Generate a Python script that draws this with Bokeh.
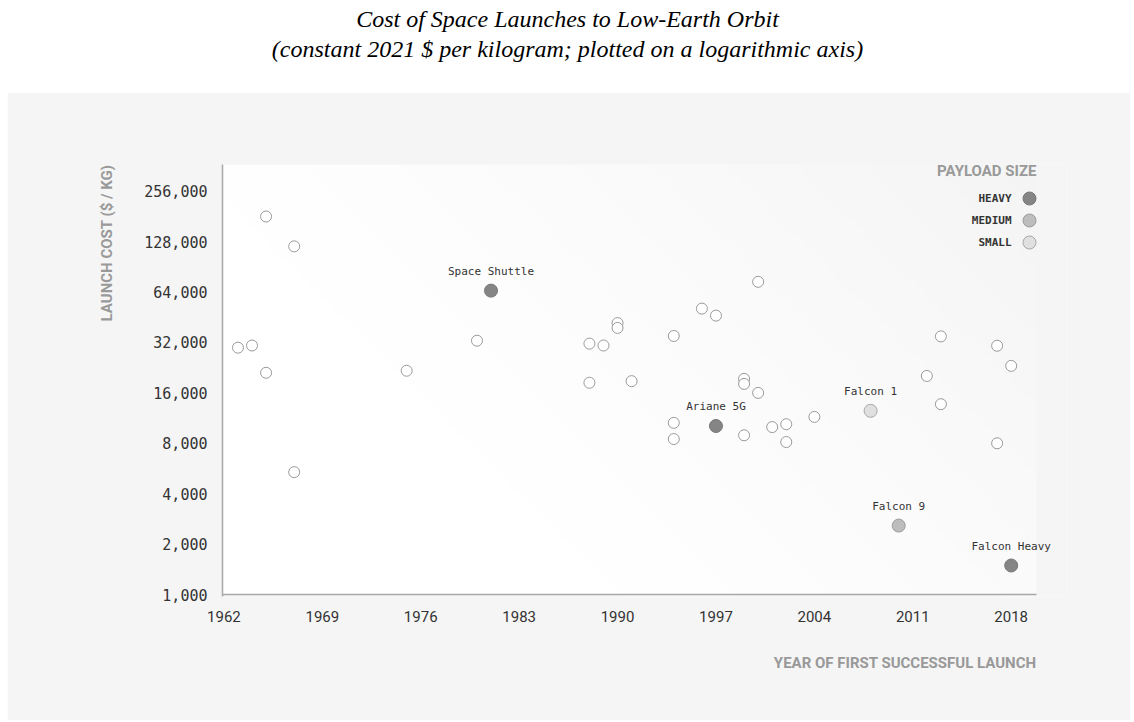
import numpy as np
from bokeh.plotting import figure
from bokeh.models import (Range1d, FixedTicker, NumeralTickFormatter, Title, Spacer,
                          ColumnDataSource, LabelSet, Label)
from bokeh.layouts import column, row
from bokeh.embed import file_html
from bokeh.resources import INLINE
from bokeh.core.properties import value

# ---------------- data ----------------
title_lines = [
    "Cost of Space Launches to Low-Earth Orbit",
    "(constant 2021 $ per kilogram; plotted on a logarithmic axis)",
]
x_axis_title = "YEAR OF FIRST SUCCESSFUL LAUNCH"
y_axis_title = "LAUNCH COST ($ / KG)"
legend_title = "PAYLOAD SIZE"

x_ticks = [1962, 1969, 1976, 1983, 1990, 1997, 2004, 2011, 2018]
y_ticks = [1000, 2000, 4000, 8000, 16000, 32000, 64000, 128000, 256000]

other_years = [1963, 1964, 1965, 1965, 1967, 1967, 1975, 1980,
               1988, 1988, 1989, 1990, 1990, 1991, 1994, 1994, 1994,
               1996, 1997, 1999, 1999, 1999, 2000, 2000, 2001, 2002, 2002,
               2004, 2012, 2013, 2013, 2017, 2017, 2018]
other_costs = [29800, 30700, 181000, 21100, 120000, 5380, 21700, 32800,
               31500, 18400, 30700, 41800, 39100, 18800, 35000, 10600, 8480,
               51000, 46300, 19400, 18100, 8930, 73700, 16000, 10000, 10400, 8140,
               11500, 20200, 34800, 13700, 30600, 8000, 23200]

named_vehicles = ["Space Shuttle", "Ariane 5G", "Falcon 1", "Falcon 9", "Falcon Heavy"]
named_years = [1981, 1997, 2008, 2010, 2018]
named_costs = [65300, 10150, 12500, 2580, 1490]
named_sizes = ["HEAVY", "HEAVY", "SMALL", "MEDIUM", "HEAVY"]

size_levels = ["HEAVY", "MEDIUM", "SMALL"]
size_fill = {"HEAVY": "#858585", "MEDIUM": "#bdbdbd", "SMALL": "#e0e0e0"}
size_line = {"HEAVY": "#777777", "MEDIUM": "#9c9c9c", "SMALL": "#a8a8a8"}

# ---------------- geometry ----------------
AX_X0, AX_X1 = 1961.9, 2019.8          # extent of the drawn axes
AX_Y0, AX_Y1 = 1000, 370000
AX_W, AX_H = 814, 430                  # axes size in px
EXTRA_R, EXTRA_B = 30, 2               # extra frame room so labels are not clipped
YR_PER_PX = (AX_X1 - AX_X0) / AX_W
LOG_PER_PX = (np.log10(AX_Y1) - np.log10(AX_Y0)) / AX_H
X0, X1 = AX_X0, AX_X1 + EXTRA_R * YR_PER_PX
Y0, Y1 = float(10 ** (np.log10(AX_Y0) - EXTRA_B * LOG_PER_PX)), AX_Y1

def xpx(dx_from_axis_right):
    return AX_X1 - dx_from_axis_right * YR_PER_PX

def ypx(dy_from_top):
    return float(10 ** (np.log10(AX_Y1) - dy_from_top * LOG_PER_PX))

# ---------------- title figure ----------------
t = figure(width=1134, height=92, x_range=Range1d(0, 1134), y_range=Range1d(92, 0),
           toolbar_location=None, output_backend="svg", min_border=0,
           x_axis_location=None, y_axis_location=None, title=None,
           outline_line_color=None, background_fill_color="white", border_fill_color="white")
t.grid.visible = False
t.text(x=[567, 567], y=[18, 48], text=title_lines,
       text_font=value("Liberation Serif"), text_font_style="italic",
       text_font_size="24px", text_align="center", text_baseline="middle",
       text_color="#000000")

# ---------------- main figure ----------------
p = figure(width=1123, height=628, x_range=Range1d(X0, X1), y_range=Range1d(Y0, Y1),
           y_axis_type="log", output_backend="svg", toolbar_location=None, title=None,
           min_border_left=215, min_border_right=94 - EXTRA_R, min_border_top=72,
           min_border_bottom=126 - EXTRA_B,
           border_fill_color="#f5f5f5", background_fill_color="#f5f5f5",
           outline_line_color=None)
p.xgrid.visible = False
p.ygrid.visible = False

# soft diagonal highlight in the plotting area (white lower-left -> grey upper-right)
ny, nx = 120, 240
yy, xx = np.mgrid[0:1:ny * 1j, 0:1:nx * 1j]
u = (xx * AX_W + yy * AX_H) / (AX_W + AX_H)
tt = np.clip((u - 0.25) / 0.75, 0, 1)
g = np.round(255 - 11 * tt ** 1.3).astype(np.uint8)
img = np.empty((ny, nx), dtype=np.uint32)
view = img.view(dtype=np.uint8).reshape((ny, nx, 4))
view[:, :, 0] = g
view[:, :, 1] = g
view[:, :, 2] = g
view[:, :, 3] = 255
p.image_rgba(image=[img], x=AX_X0, y=AX_Y0, dw=AX_X1 - AX_X0, dh=AX_Y1 - AX_Y0)

p.xaxis.ticker = FixedTicker(ticks=x_ticks)
p.yaxis.ticker = FixedTicker(ticks=y_ticks)
p.yaxis.formatter = NumeralTickFormatter(format="0,0")
for ax in (p.xaxis[0], p.yaxis[0]):
    ax.major_tick_line_color = None
    ax.minor_tick_line_color = None
    ax.axis_line_color = "#a8a8a8"
    ax.axis_line_width = 1.5
    ax.major_label_text_color = "#333333"
p.xaxis.axis_line_color = None
p.yaxis.major_label_text_font = "DejaVu Sans Mono"
p.yaxis.major_label_text_font_size = "15px"
p.yaxis.major_label_standoff = 9
p.xaxis.major_label_text_font = "Roboto"
p.xaxis.major_label_text_font_size = "15px"
p.xaxis.major_label_standoff = 10 - EXTRA_B

# x axis line drawn only over the axis extent
p.segment(x0=[AX_X0], y0=[AX_Y0], x1=[AX_X1], y1=[AX_Y0],
          line_color="#a8a8a8", line_width=1.5)

ylab = Title(text=y_axis_title, align="right", text_font="Roboto", text_font_size="15px",
             text_font_style="bold", text_color="#999999", standoff=51)
p.add_layout(ylab, "left")
xlab = Title(text=x_axis_title, align="right", text_font="Roboto", text_font_size="15px",
             text_font_style="bold", text_color="#999999", standoff=55,
             offset=EXTRA_R)
p.add_layout(xlab, "below")

# unlabeled launches
p.scatter(other_years, other_costs, size=11, fill_color="white",
          line_color="#9a9a9a", line_width=1)

# labelled vehicles
src = ColumnDataSource(dict(
    year=named_years, cost=named_costs, name=named_vehicles,
    fill=[size_fill[s] for s in named_sizes], line=[size_line[s] for s in named_sizes],
))
p.scatter("year", "cost", source=src, size=13, fill_color="fill", line_color="line", line_width=1)
p.add_layout(LabelSet(x="year", y="cost", text="name", source=src,
                      text_font=value("DejaVu Sans Mono"), text_font_size=value("11px"),
                      text_align="center", text_baseline="middle",
                      y_offset=19, text_color="#333333"))

# legend (drawn manually: label left of swatch)
p.add_layout(Label(x=AX_X1, y=ypx(6), text=legend_title, text_font="Roboto",
                   text_font_style="bold", text_font_size="15px", text_color="#999999",
                   text_align="right", text_baseline="middle"))
leg_y = [ypx(34 + 22 * i) for i in range(len(size_levels))]
p.scatter(x=[xpx(7)] * len(size_levels), y=leg_y, size=13,
          fill_color=[size_fill[s] for s in size_levels],
          line_color=[size_line[s] for s in size_levels], line_width=1)
for lvl, ly in zip(size_levels, leg_y):
    p.add_layout(Label(x=xpx(25), y=ly, text=lvl, text_font="DejaVu Sans Mono",
                       text_font_style="bold", text_font_size="11px", text_color="#333333",
                       text_align="right", text_baseline="middle"))

layout = column(t, row(Spacer(width=7, height=628), p))
open("out.html", "w").write(file_html(layout, INLINE))
